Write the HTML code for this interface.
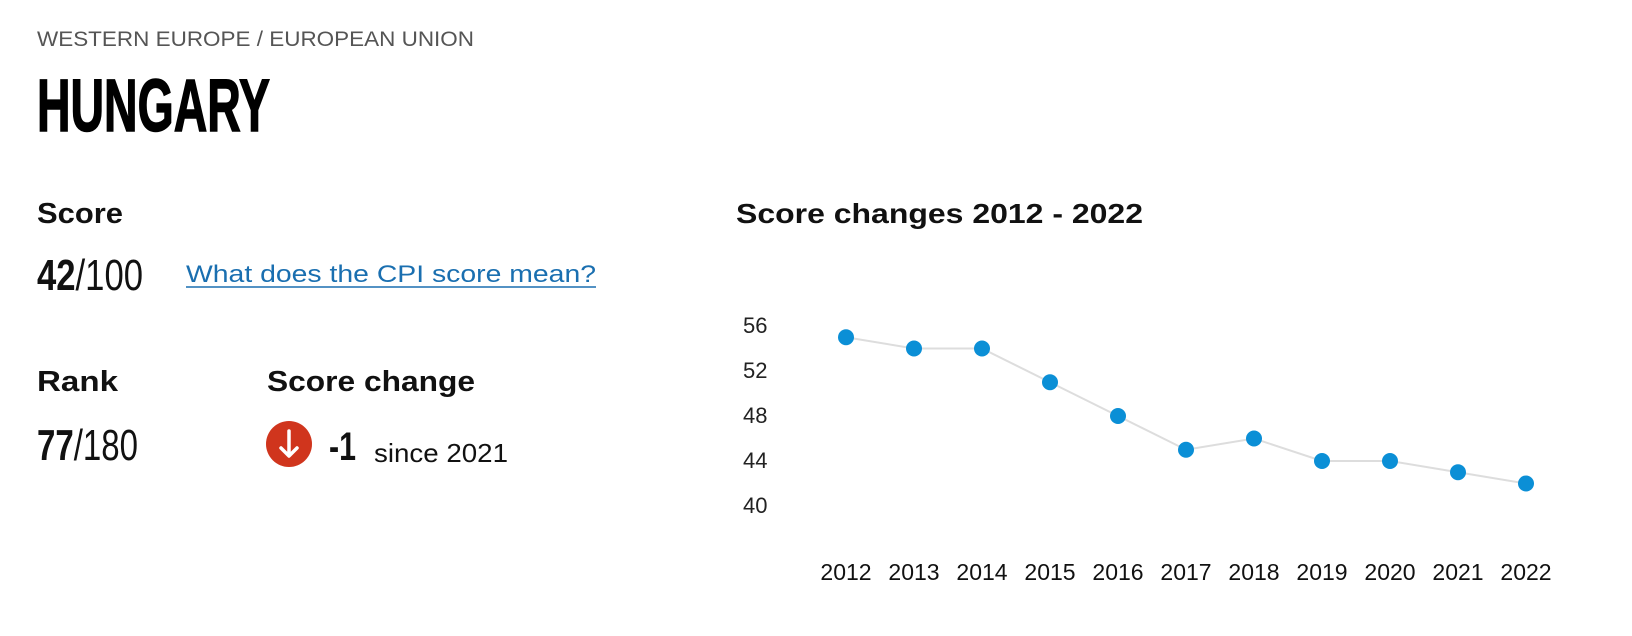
<!DOCTYPE html>
<html><head><meta charset="utf-8"><style>
html,body{margin:0;padding:0;background:#fff;}
svg{display:block}
</style></head><body>
<svg width="1632" height="636" viewBox="0 0 1632 636" xmlns="http://www.w3.org/2000/svg" font-family="Liberation Sans, sans-serif">
<text x="37" y="46" font-size="21" fill="#555" textLength="437" lengthAdjust="spacingAndGlyphs">WESTERN EUROPE / EUROPEAN UNION</text>
<text x="37" y="131" font-size="74" font-weight="bold" fill="#000" stroke="#000" stroke-width="1.5" font-family="Liberation Sans Narrow, Liberation Sans, sans-serif" textLength="233" lengthAdjust="spacingAndGlyphs">HUNGARY</text>
<text x="37" y="223" font-size="29" font-weight="bold" fill="#111" textLength="86" lengthAdjust="spacingAndGlyphs">Score</text>
<g font-family="Liberation Sans Narrow, Liberation Sans, sans-serif">
<text x="37" y="290" font-size="44" fill="#111" textLength="106" lengthAdjust="spacingAndGlyphs"><tspan font-weight="bold">42</tspan>/100</text>
<text x="37" y="460" font-size="44" fill="#111" textLength="101" lengthAdjust="spacingAndGlyphs"><tspan font-weight="bold">77</tspan>/180</text>
</g>
<text x="186" y="282" font-size="24" fill="#1a6fb0" textLength="410" lengthAdjust="spacingAndGlyphs">What does the CPI score mean?</text>
<line x1="186" y1="287" x2="596" y2="287" stroke="#1a6fb0" stroke-width="1.5"/>
<text x="37" y="391" font-size="29" font-weight="bold" fill="#111" textLength="81" lengthAdjust="spacingAndGlyphs">Rank</text>
<text x="267" y="391" font-size="29" font-weight="bold" fill="#111" textLength="208" lengthAdjust="spacingAndGlyphs">Score change</text>
<circle cx="289" cy="444" r="23" fill="#d0351d"/>
<path d="M289 431 V455 M281 448 L289 456 L297 448" stroke="#fff" stroke-width="3.5" fill="none" stroke-linecap="round" stroke-linejoin="round"/>
<text x="329" y="460" font-size="40" font-weight="bold" fill="#111" font-family="Liberation Sans Narrow, Liberation Sans, sans-serif" textLength="27" lengthAdjust="spacingAndGlyphs">-1</text>
<text x="374" y="462" font-size="26" fill="#111" textLength="134" lengthAdjust="spacingAndGlyphs">since 2021</text>
<text x="736" y="223" font-size="28" font-weight="bold" fill="#111" textLength="407" lengthAdjust="spacingAndGlyphs">Score changes 2012 - 2022</text>
<g font-size="22" fill="#222">
<text x="743" y="333">56</text>
<text x="743" y="378">52</text>
<text x="743" y="423">48</text>
<text x="743" y="468">44</text>
<text x="743" y="513">40</text>
</g>
<polyline fill="none" stroke="#ddd" stroke-width="2" points="846,337.25 914,348.5 982,348.5 1050,382.25 1118,416 1186,449.75 1254,438.5 1322,461 1390,461 1458,472.25 1526,483.5"/>
<g fill="#0b8fd6">
<circle cx="846" cy="337.25" r="8"/><circle cx="914" cy="348.5" r="8"/><circle cx="982" cy="348.5" r="8"/><circle cx="1050" cy="382.25" r="8"/><circle cx="1118" cy="416" r="8"/><circle cx="1186" cy="449.75" r="8"/><circle cx="1254" cy="438.5" r="8"/><circle cx="1322" cy="461" r="8"/><circle cx="1390" cy="461" r="8"/><circle cx="1458" cy="472.25" r="8"/><circle cx="1526" cy="483.5" r="8"/>
</g>
<g font-size="23" fill="#111" text-anchor="middle">
<text x="846" y="580">2012</text><text x="914" y="580">2013</text><text x="982" y="580">2014</text><text x="1050" y="580">2015</text><text x="1118" y="580">2016</text><text x="1186" y="580">2017</text><text x="1254" y="580">2018</text><text x="1322" y="580">2019</text><text x="1390" y="580">2020</text><text x="1458" y="580">2021</text><text x="1526" y="580">2022</text>
</g>
</svg>
</body></html>
